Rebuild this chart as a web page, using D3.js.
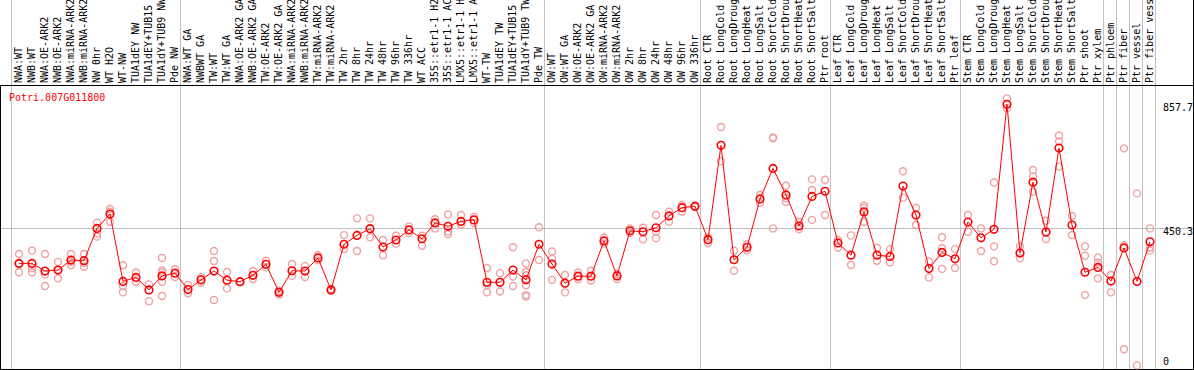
<!DOCTYPE html>
<html>
<head>
<meta charset="utf-8">
<script src="https://cdn.jsdelivr.net/npm/d3@7"></script>
<style>
body { margin: 0; background: #fff; }
svg { display: block; }
text { font-family: "DejaVu Sans Mono", monospace; font-size: 10px; }
</style>
</head>
<body>
<script>
// sample labels, left to right
var samples = [
	"NWA:WT","NWB:WT","NWA:OE-ARK2","NWB:OE-ARK2","NWA:miRNA-ARK2","NWB:miRNA-ARK2","NW 0hr","WT H2O","WT-NW",
	"TUA1dEY NW","TUA1dEY+TUB15 NW","TUA1dY+TUB9 NW","Pde NW",
	"NWA:WT GA","NWBWT GA","TW:WT","TW:WT GA","NWA:OE-ARK2 GA","NWB:OE-ARK2 GA","TW:OE-ARK2","TW:OE-ARK2 GA",
	"NWA:miRNA-ARK2 GA","NWB:miRNA-ARK2 GA","TW:miRNA-ARK2","TW:miRNA-ARK2","TW 2hr","TW 8hr","TW 24hr","TW 48hr",
	"TW 96hr","TW 336hr","WT ACC","35S::etr1-1 H2O","35S::etr1-1 ACC","LMX5::etr1-1 H2O","LMX5::etr1-1 ACC",
	"WT-TW","TUA1dEY TW","TUA1dEY+TUB15 TW","TUA1dY+TUB9 TW","Pde TW",
	"OW:WT","OW:WT GA","OW:OE-ARK2","OW:OE-ARK2 GA","OW:miRNA-ARK2","OW:miRNA-ARK2","OW 2hr","OW 8hr","OW 24hr",
	"OW 48hr","OW 96hr","OW 336hr",
	"Root CTR","Root LongCold","Root LongDrought","Root LongHeat","Root LongSalt","Root ShortCold","Root ShortDrought",
	"Root ShortHeat","Root ShortSalt","Ptr root",
	"Leaf CTR","Leaf LongCold","Leaf LongDrought","Leaf LongHeat","Leaf LongSalt","Leaf ShortCold","Leaf ShortDrought",
	"Leaf ShortHeat","Leaf ShortSalt","Ptr leaf",
	"Stem CTR","Stem LongCold","Stem LongDrought","Stem LongHeat","Stem LongSalt","Stem ShortCold","Stem ShortDrought",
	"Stem ShortHeat","Stem ShortSalt","Ptr shoot","Ptr xylem",
	"Ptr phloem","Ptr fiber","Ptr vessel","Ptr fiber vessel"
];

// mean expression per sample
var means = [
	335,335,310,313,346,344,450,497,276,289,248,294,303,
	249,281,310,280,275,296,332,240,311,310,353,248,398,427,449,389,412,445,416,468,457,473,478,273,273,313,281,
	398,333,270,293,293,409,294,442,439,452,491,518,523,
	413,723,347,388,547,647,560,458,555,572,
	402,362,504,362,358,589,494,318,371,350,
	471,419,447,857.7,369,602,438,714,461,306,322,
	277,386,276,406
];

// replicate values per sample
var reps = [
	[366,306,335],[377,320,306],[366,299,261],[340,286,313],[366,330,340],[366,324,336],[469,434,423],[514,472,505],
	[329,261,240],[305,275],[266,211],[353,312,305,275,228],[316,290],
	[264,237],[290,272],[376,343,215],[307,253],[275,275],[310,284],[344,322],[245,233],[333,294],[326,290],
	[362,345],[251,245],[428,382],[483,376],[483,421],[412,362],[426,400],[456,435],[426,393],[480,450],
	[496,440,431],[494,462],[488,468],[320,240,264],[303,243],[388,292,261],[335,307,296,263,231,226],
	[454,346],[374,350,281],[297,240],[305,283],[311,279],[420,400],[300,284],[450,435],[452,414],[494,418,440],
	[505,472],[527,505],[523,520],
	[420,402],[783,671],[377,311],[398,378],[560,533],[749,746,450],[590,537,550],[472,448],[611,576,478],[610,494],
	[412,387],[427,330],[525,518,472],[386,344],[382,339],[638,551],[518,461],[341,289],[421,385,317],[382,320],
	[494,439],[450,376],[601,391,342],[877,845],[391,352],[642,620,571],[475,415],[755,736,653],[491,428],
	[391,360,231],[354,337,286],
	[297,240],[713,395,53],[565,0],[450,387,377]
];

// sample index where each block starts (vertical grid lines)
var blockStarts = [0,13,41,53,63,73,84,85,86,87,88];
var yTicks = [0,450.3,857.7];
var geneName = "Potri.007G011800";

var W = 1194, H = 370;
var grey = "#c0c0c0";

var svg = d3.select("body").append("svg").attr("width",W).attr("height",H);

var x = d3.scaleBand().domain(d3.range(samples.length)).range([11.5,11.5+13*samples.length]);
var y = d3.scaleLinear().domain([0,857.7]).range([365.4,104.3]);
function cx(i){ return x(i)+x.bandwidth()/2+1; }

// vertical grid lines through label area and plot
svg.selectAll("line.vgrid").data(blockStarts).enter().append("line")
	.attr("x1",function(d){ return d<samples.length ? x(d) : x(d-1)+13; })
	.attr("x2",function(d){ return d<samples.length ? x(d) : x(d-1)+13; })
	.attr("y1",0).attr("y2",370)
	.attr("stroke",grey).attr("stroke-width",1);

// horizontal grid line
svg.append("line")
	.attr("x1",1).attr("x2",1193)
	.attr("y1",Math.round(y(450.3))+0.5).attr("y2",Math.round(y(450.3))+0.5)
	.attr("stroke",grey);

// frame
svg.append("line").attr("x1",0).attr("x2",W).attr("y1",85.5).attr("y2",85.5).attr("stroke","#000");
svg.append("line").attr("x1",0).attr("x2",W).attr("y1",369.5).attr("y2",369.5).attr("stroke","#000");
svg.append("line").attr("x1",0.5).attr("x2",0.5).attr("y1",85).attr("y2",370).attr("stroke","#000");
svg.append("line").attr("x1",1193.5).attr("x2",1193.5).attr("y1",0).attr("y2",370).attr("stroke","#000");

// sample labels
svg.selectAll("text.lab").data(samples).enter().append("text")
	.attr("class","lab")
	.attr("transform",function(d,i){ return "translate("+(cx(i)+3)+",83) rotate(-90)"; })
	.attr("fill","#000")
	.text(function(d){ return d; });

// y labels
svg.selectAll("text.ylab").data(yTicks).enter().append("text")
	.attr("x",1163)
	.attr("y",function(d){ return Math.min(y(d)+7,365); })
	.attr("fill","#000")
	.text(function(d){ return d; });

svg.append("text").attr("x",9).attr("y",101).attr("fill","#ff0000").text(geneName);

// replicates
var repPts = [];
reps.forEach(function(r,i){ r.forEach(function(v){ repPts.push({i:i,v:v}); }); });
svg.selectAll("circle.rep").data(repPts).enter().append("circle")
	.attr("cx",function(d){ return cx(d.i); })
	.attr("cy",function(d){ return y(d.v); })
	.attr("r",3.5)
	.attr("fill","none")
	.attr("stroke","#f0a0a0")
	.attr("stroke-width",1.4);

// mean line
var line = d3.line().x(function(d,i){ return cx(i); }).y(function(d){ return y(d); });
svg.append("path").datum(means).attr("d",line)
	.attr("fill","none").attr("stroke","#ff0000").attr("stroke-width",1);

svg.selectAll("circle.mean").data(means).enter().append("circle")
	.attr("cx",function(d,i){ return cx(i); })
	.attr("cy",function(d){ return y(d); })
	.attr("r",3.8)
	.attr("fill","none")
	.attr("stroke","#ff0000")
	.attr("stroke-width",1.6);
</script>
</body>
</html>
